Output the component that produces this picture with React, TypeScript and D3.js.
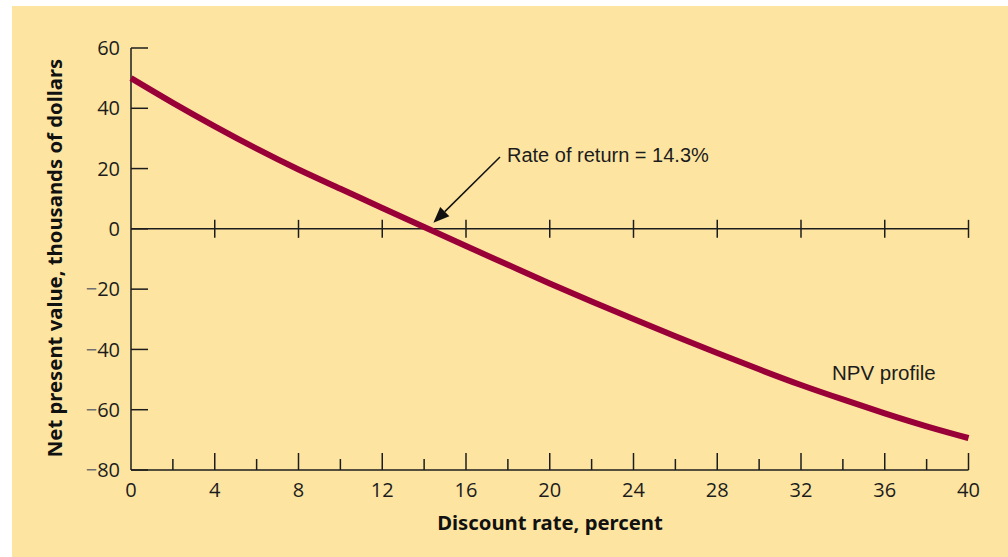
import React from "react";
import * as d3 from "d3";

const rates = [0, 2, 4, 6, 8, 10, 12, 14, 16, 18, 20, 22, 24, 26, 28, 30, 32, 34, 36, 38, 40];
const npv = [50, 41.8, 34.0, 26.6, 19.7, 13.3, 6.9, 0.6, -5.7, -11.9, -18.1, -24.1, -29.9, -35.6, -41.2, -46.6, -51.8, -56.6, -61.2, -65.5, -69.4];
const xMajorTicks = [0, 4, 8, 12, 16, 20, 24, 28, 32, 36, 40];
const xMinorTicks = [2, 6, 10, 14, 18, 22, 26, 30, 34, 38];
const yTicks = [60, 40, 20, 0, -20, -40, -60, -80];
const irr = 14.3;

const W = 1008;
const H = 557;
const x = d3.scaleLinear().domain([0, 40]).range([131, 968.5]);
const y = d3.scaleLinear().domain([-80, 60]).range([470, 48]);

const tickFont = "'Open Sans', 'Noto Sans', sans-serif";
const titleFont = "'Noto Sans', 'Open Sans', sans-serif";
const annFont = "'Liberation Sans', Arial, sans-serif";
const ink = "#1c1c1c";

export default function App() {
  const pts = rates.map((r, i) => [r, npv[i]] as [number, number]);
  const line = d3
    .line<[number, number]>()
    .x((d) => x(d[0]))
    .y((d) => y(d[1]))
    .curve(d3.curveNatural);

  const tip: [number, number] = [x(irr) + 3, y(0) - 6];
  const tail: [number, number] = [500, 157];
  const ang = Math.atan2(tail[1] - tip[1], tail[0] - tip[0]);
  const hl = 16;
  const hw = 6.5;
  const bx = tip[0] + hl * Math.cos(ang);
  const by = tip[1] + hl * Math.sin(ang);
  const px = -Math.sin(ang) * hw;
  const py = Math.cos(ang) * hw;

  return (
    <svg
      width={W}
      height={H}
      style={{ position: "absolute", left: 0, top: 0, display: "block" }}
    >
      <rect x={0} y={0} width={W} height={H} fill="#ffffff" />
      <rect x={12} y={6} width={W - 12} height={H - 6} fill="#FDE5A1" />

      {/* y axis */}
      <line x1={x(0)} x2={x(0)} y1={y(60)} y2={y(-80)} stroke={ink} strokeWidth={1.5} />
      {yTicks.map((t) => (
        <g key={"yt" + t}>
          <line x1={x(0)} x2={x(0) + 17} y1={y(t)} y2={y(t)} stroke={ink} strokeWidth={1.5} />
          <text
            x={120}
            y={y(t)}
            dy="0.36em"
            textAnchor="end"
            fontFamily={tickFont}
            fontSize={20}
            fill={ink}
          >
            {t < 0 ? (
              <>
                <tspan fill="#707070">{"\u2212"}</tspan>
                {String(Math.abs(t))}
              </>
            ) : (
              String(t)
            )}
          </text>
        </g>
      ))}

      {/* bottom x axis */}
      <line x1={x(0)} x2={x(40)} y1={y(-80)} y2={y(-80)} stroke={ink} strokeWidth={1.5} />
      {xMajorTicks.map((t) => (
        <g key={"xm" + t}>
          {t > 0 && (
            <line x1={x(t)} x2={x(t)} y1={y(-80)} y2={y(-80) - 17} stroke={ink} strokeWidth={1.5} />
          )}
          <text
            x={x(t)}
            y={497}
            textAnchor="middle"
            fontFamily={tickFont}
            fontSize={20}
            fill={ink}
          >
            {t}
          </text>
        </g>
      ))}
      {xMinorTicks.map((t) => (
        <line key={"xn" + t} x1={x(t)} x2={x(t)} y1={y(-80)} y2={y(-80) - 11} stroke={ink} strokeWidth={1.5} />
      ))}

      {/* zero line */}
      <line x1={x(0)} x2={x(40)} y1={y(0)} y2={y(0)} stroke={ink} strokeWidth={1.5} />
      {xMajorTicks
        .filter((t) => t > 0)
        .map((t) => (
          <line key={"zt" + t} x1={x(t)} x2={x(t)} y1={y(0) - 9} y2={y(0) + 9} stroke={ink} strokeWidth={1.5} />
        ))}

      {/* NPV curve */}
      <path d={line(pts) || ""} fill="none" stroke="#9A0038" strokeWidth={6} />

      {/* annotation arrow */}
      <line x1={tail[0]} y1={tail[1]} x2={bx} y2={by} stroke="#111" strokeWidth={1.5} />
      <polygon
        points={`${tip[0]},${tip[1]} ${bx + px},${by + py} ${bx - px},${by - py}`}
        fill="#111"
      />
      <text x={507} y={162} fontFamily={annFont} fontSize={20} fill={ink}>
        Rate of return = 14.3%
      </text>
      <text x={832} y={380} fontFamily={annFont} fontSize={20.5} fill={ink}>
        NPV profile
      </text>

      {/* axis titles */}
      <text
        x={550}
        y={530}
        textAnchor="middle"
        fontFamily={titleFont}
        fontWeight="bold"
        fontSize={20.3}
        fill="#111"
      >
        Discount rate, percent
      </text>
      <text
        transform={`translate(62,258) rotate(-90)`}
        textAnchor="middle"
        fontFamily={titleFont}
        fontWeight="bold"
        fontSize={20.3}
        fill="#111"
      >
        Net present value, thousands of dollars
      </text>
    </svg>
  );
}
